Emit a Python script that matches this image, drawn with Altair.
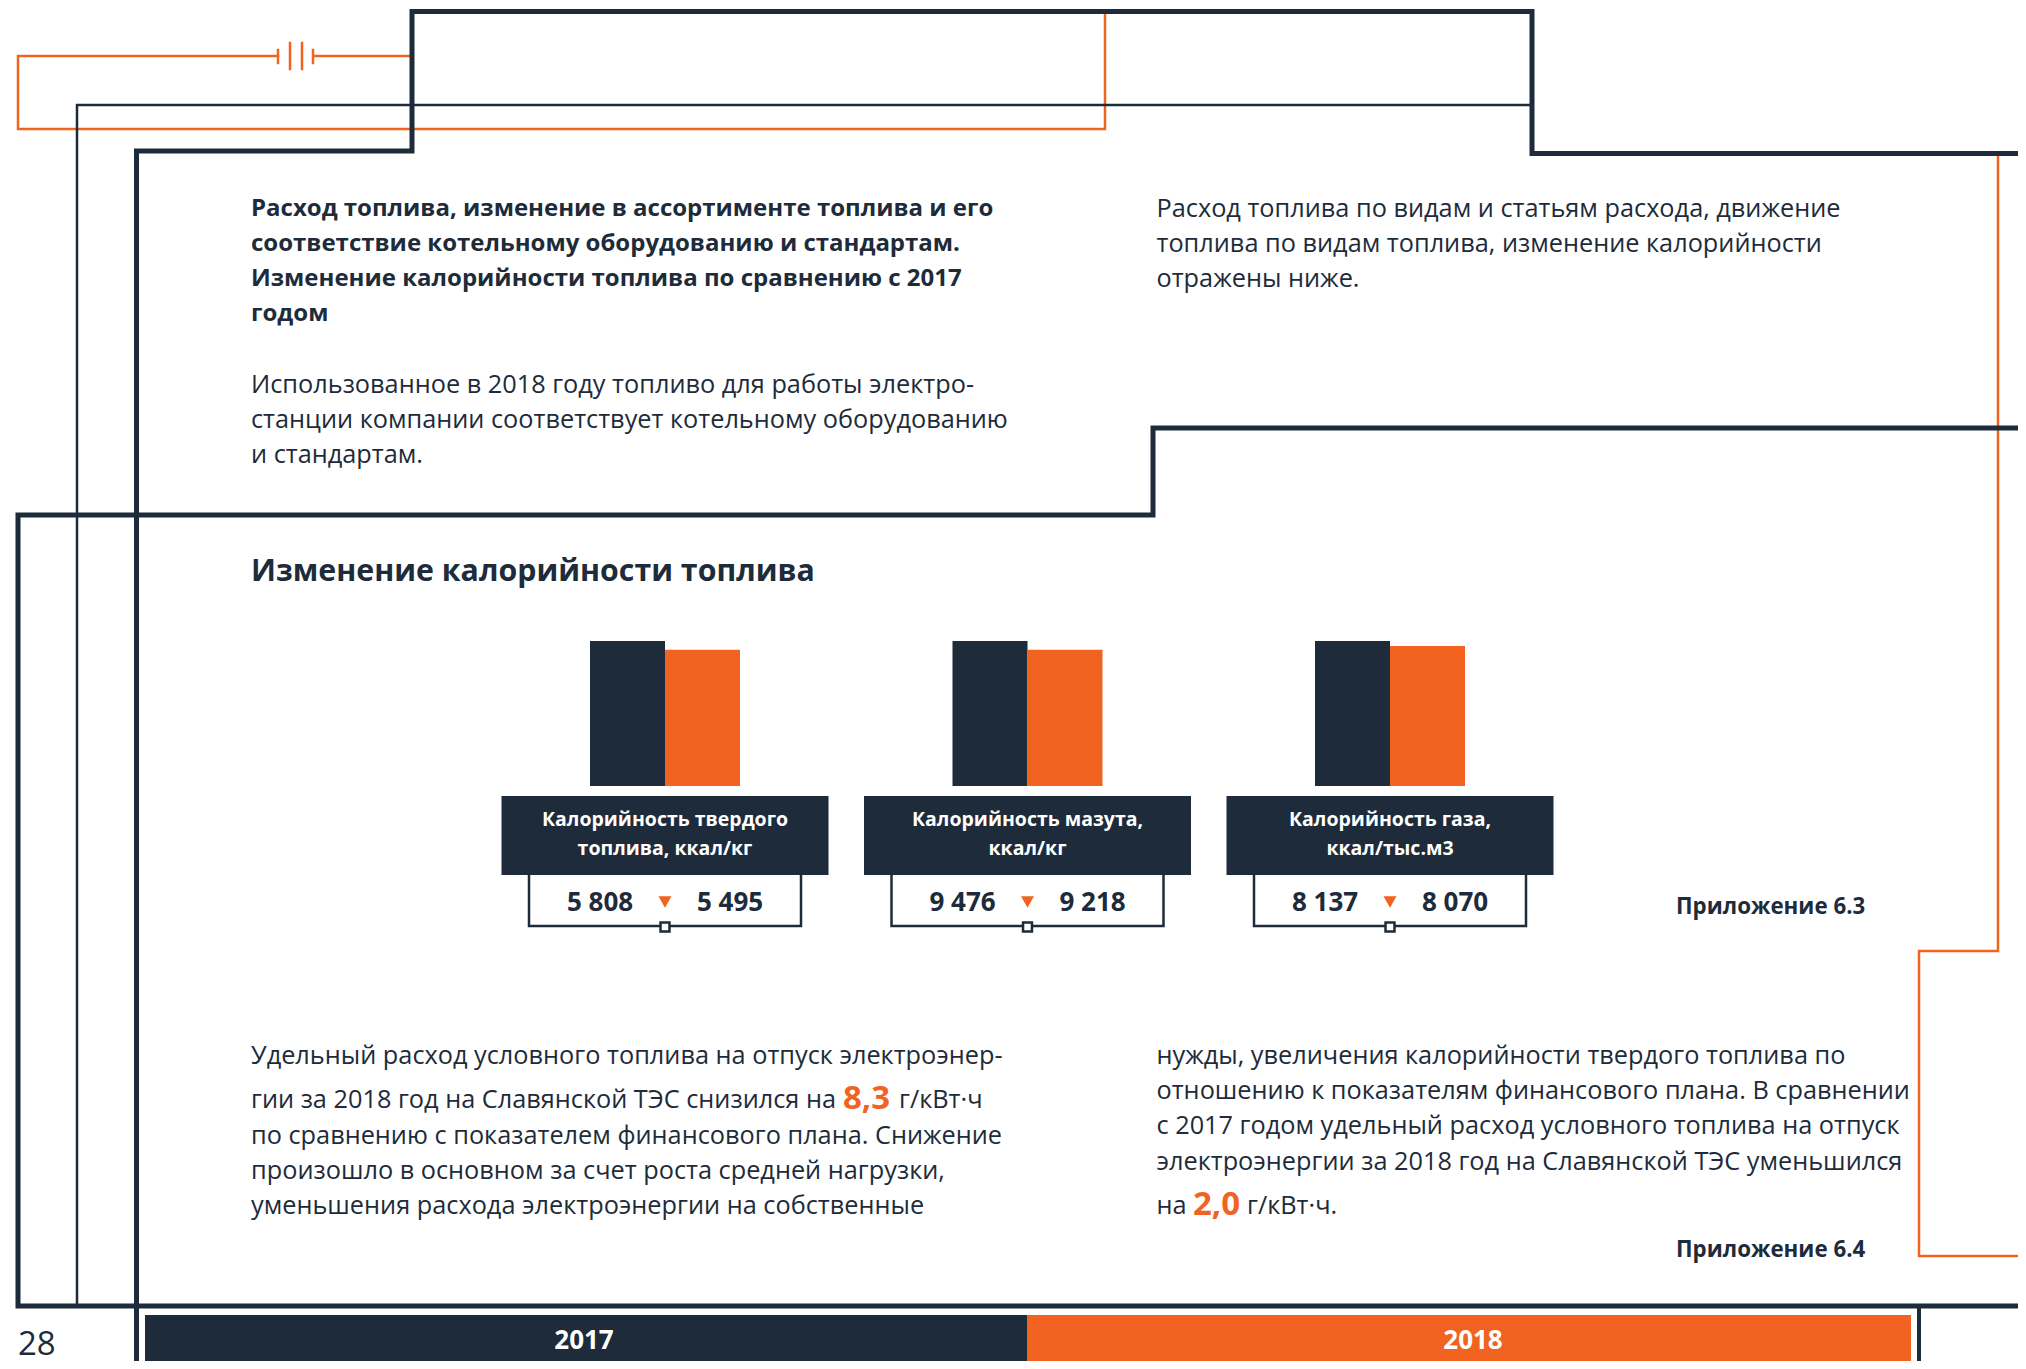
import altair as alt
import pandas as pd

PAGE_W, PAGE_H, M = 2026, 1369, 8
CHART_W, CHART_H = 2010, 1353
DARK, ORANGE = "#1d2b3a", "#f26322"
FONT = "Open Sans"

# --- chart data ---
groups = ["Калорийность твердого топлива, ккал/кг", "Калорийность мазута, ккал/кг", "Калорийность газа, ккал/тыс.м3"]
group_lines = [["Калорийность твердого", "топлива, ккал/кг"], ["Калорийность мазута,", "ккал/кг"], ["Калорийность газа,", "ккал/тыс.м3"]]
years = ["2017", "2018"]
values_2017 = ["5 808", "9 476", "8 137"]
values_2018 = ["5 495", "9 218", "8 070"]
# bar heights as drawn in the picture (2017 bar = 100)
heights_2017 = [100, 100, 100]
heights_2018 = [94, 94, 96.5]

# --- page text ---
bold_intro = ["Расход топлива, изменение в ассортименте топлива и его",
              "соответствие котельному оборудованию и стандартам.",
              "Изменение калорийности топлива по сравнению с 2017",
              "годом"]
intro = ["Использованное в 2018 году топливо для работы электро-",
         "станции компании соответствует котельному оборудованию",
         "и стандартам."]
right_intro = ["Расход топлива по видам и статьям расхода, движение",
               "топлива по видам топлива, изменение калорийности",
               "отражены ниже."]
heading = "Изменение калорийности топлива"
left_low = ["Удельный расход условного топлива на отпуск электроэнер-",
            "гии за 2018 год на Славянской ТЭС снизился на",
            "по сравнению с показателем финансового плана. Снижение",
            "произошло в основном за счет роста средней нагрузки,",
            "уменьшения расхода электроэнергии на собственные"]
right_low = ["нужды, увеличения калорийности твердого топлива по",
             "отношению к показателям финансового плана. В сравнении",
             "с 2017 годом удельный расход условного топлива на отпуск",
             "электроэнергии за 2018 год на Славянской ТЭС уменьшился",
             "на"]

X = alt.X("x:Q", axis=None, scale=alt.Scale(domain=[M, M + CHART_W], range=[0, CHART_W], nice=False, zero=False))
Y = alt.Y("y:Q", axis=None, scale=alt.Scale(domain=[M, M + CHART_H], range=[0, CHART_H], nice=False, zero=False))
X2, Y2 = alt.X2("x2:Q"), alt.Y2("y2:Q")


def path(points, color, width):
    df = pd.DataFrame(points, columns=["x", "y"]).assign(i=range(len(points)))
    return alt.Chart(df).mark_line(color=color, strokeWidth=width, strokeCap="square", strokeJoin="miter", clip=False).encode(x=X, y=Y, order="i:Q")


def rects(rows, color, **kw):
    df = pd.DataFrame(rows, columns=["x", "y", "x2", "y2"])
    return alt.Chart(df).mark_rect(color=color, **kw).encode(x=X, y=Y, x2=X2, y2=Y2)


def texts(rows, size, weight="normal", color=DARK, align="left"):
    df = pd.DataFrame(rows, columns=["x", "y", "t"])
    df["y"] = df["y"] + 1.5
    return alt.Chart(df).mark_text(font=FONT, fontSize=size, fontWeight=weight, color=color, align=align,
                                   baseline="middle").encode(x=X, y=Y, text="t:N")


layers = []
# decorative frame, orange circuit below dark lines
layers += [
    path([(412, 56), (315, 56)], ORANGE, 2.5),
    path([(278, 56), (18, 56), (18, 129), (1105, 129), (1105, 14)], ORANGE, 2.5),
    path([(313, 50), (313, 63)], ORANGE, 2.5),
    path([(278, 50), (278, 63)], ORANGE, 2.5),
    path([(290, 43), (290, 69)], ORANGE, 2.5),
    path([(302, 43), (302, 69)], ORANGE, 2.5),
    path([(1998, 153), (1998, 951), (1919, 951), (1919, 1256), (2030, 1256)], ORANGE, 2.5),
    path([(77, 1305), (77, 105), (1532, 105)], DARK, 2.5),
    path([(2030, 153.5), (1532, 153.5), (1532, 11.5), (412, 11.5), (412, 151), (136.5, 151), (136.5, 1375)], DARK, 5),
    path([(2030, 428), (1153, 428), (1153, 515), (18, 515), (18, 1306), (2030, 1306)], DARK, 5),
    path([(1919, 1306), (1919, 1375)], DARK, 4),
]

# footer legend
layers.append(rects([(145, 1315, 1027, 1362)], DARK))
layers.append(rects([(1027, 1315, 1911, 1362)], ORANGE))
layers.append(texts([(584, 1339, years[0])], 26, "bold", "white", "center"))
layers.append(texts([(1473, 1339, years[1])], 26, "bold", "white", "center"))
layers.append(texts([(18, 1343, "28")], 33))

# bars
bars_df = pd.DataFrame({
    "group": groups * 2,
    "year": [years[0]] * 3 + [years[1]] * 3,
    "h": heights_2017 + heights_2018,
})
step = 362.5
left = 665 - step / 2 - M
bars = alt.Chart(bars_df).mark_bar(size=75, clip=False).encode(
    x=alt.X("group:N", axis=None, sort=groups,
            scale=alt.Scale(domain=groups, range=[left, left + 3 * step], paddingInner=0, paddingOuter=0)),
    xOffset=alt.XOffset("year:N", sort=years,
                        scale=alt.Scale(domain=years, range=[step / 2 - 75, step / 2 + 75], paddingInner=0, paddingOuter=0)),
    y=alt.Y("h:Q", axis=None, scale=alt.Scale(domain=[0, 100], range=[786 - M, 641 - M], nice=False, zero=True)),
    color=alt.Color("year:N", legend=None, scale=alt.Scale(domain=years, range=[DARK, ORANGE])),
)
layers.append(bars)

# value cards
centers = [665, 1027.5, 1390]
for i, c in enumerate(centers):
    layers.append(path([(c - 136, 872), (c - 136, 926), (c + 136, 926), (c + 136, 872)], DARK, 2.5))
    layers.append(rects([(c - 163.5, 796, c + 163.5, 875)], DARK))
    layers.append(texts([(c, 818.5, group_lines[i][0]), (c, 847.5, group_lines[i][1])], 19.5, "bold", "white", "center"))
    layers.append(texts([(c - 65, 901, values_2017[i]), (c + 65, 901, values_2018[i])], 26, "bold", DARK, "center"))
    tri = pd.DataFrame({"x": [c], "y": [902]})
    layers.append(alt.Chart(tri).mark_point(shape="triangle-down", filled=True, size=170, color=ORANGE, opacity=1).encode(x=X, y=Y))
    sq = pd.DataFrame({"x": [c], "y": [927]})
    layers.append(alt.Chart(sq).mark_square(size=80, color="white", stroke=DARK, strokeWidth=2.5, opacity=1).encode(x=X, y=Y))

# body text
BODY = 25.3
BOLD = 24
LX, RX = 251, 1156.5
layers.append(texts([(LX, y, t) for y, t in zip([207, 242, 277, 312], bold_intro)], BOLD, "bold"))
layers.append(texts([(LX, y, t) for y, t in zip([383, 418, 453], intro)], BODY))
layers.append(texts([(RX, y, t) for y, t in zip([207, 242, 277], right_intro)], BODY))
layers.append(texts([(LX, 570, heading)], 30.3, "bold"))
layers.append(texts([(LX, y, t) for y, t in zip([1054, 1098, 1134, 1169, 1204], left_low)], BODY))
layers.append(texts([(RX, y, t) for y, t in zip([1054, 1089, 1124, 1160, 1204], right_low)], BODY))
layers.append(texts([(843, 1097, "8,3"), (1193, 1203, "2,0")], 33, "bold", ORANGE))
layers.append(texts([(899, 1098, "г/кВт·ч"), (1247, 1204, "г/кВт·ч.")], BODY))
layers.append(texts([(1676, 905, "Приложение 6.3"), (1676, 1248, "Приложение 6.4")], 22.3, "bold"))

chart = alt.layer(*layers).resolve_scale(x="independent", y="independent", color="independent").properties(
    width=CHART_W, height=CHART_H, padding=0, autosize=alt.AutoSizeParams(type="none"),
    background="white",
).configure_view(stroke=None)

chart.save("out.html", embed_options={"renderer": "svg", "actions": False})
